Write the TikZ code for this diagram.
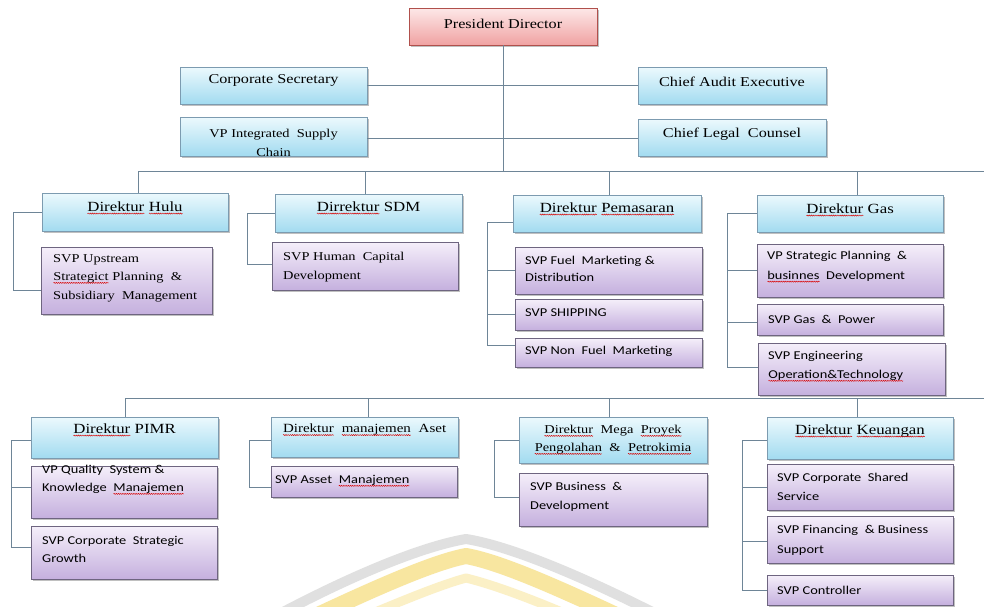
\documentclass[tikz,border=0pt]{standalone}
\usepackage{fontspec}
\setmainfont{Liberation Serif}[FakeStretch=1.2]
\newfontfamily\calfont{Carlito}[FakeStretch=1.2]
\usetikzlibrary{shadows,decorations.pathmorphing}

\definecolor{blueT}{HTML}{ECF9FD}
\definecolor{blueB}{HTML}{A2DBF0}
\definecolor{blueD}{HTML}{7C9BB0}
\definecolor{purT}{HTML}{F5EFFA}
\definecolor{purB}{HTML}{C5B0DE}
\definecolor{purD}{HTML}{6E6580}
\definecolor{redT}{HTML}{FDE8E8}
\definecolor{redB}{HTML}{F0A2A2}
\definecolor{redD}{HTML}{B0504C}
\definecolor{lineC}{HTML}{6E8597}
\definecolor{wmGray}{HTML}{E0E0E0}
\definecolor{wmYel}{HTML}{F8E6A0}

\newcommand\sq[1]{\tikz[baseline=(sqw.base)]{\node[inner sep=0pt,outer sep=0pt,anchor=base,draw=none,fill=none] (sqw) at (0,0) {#1};\draw[red!85!black,line width=0.45pt,decorate,decoration={snake,amplitude=0.55pt,segment length=2.2pt}] ([yshift=-2.2pt]sqw.base west) -- ([yshift=-2.2pt]sqw.base east);}}

\newcommand\bx[6]{\node[#1, minimum width={(#5-#3)*1pt}, minimum height={(#6-#4)*1pt}] (#2) at ({(#3+#5)/2},{(#4+#6)/2}) {};}

\tikzset{
  box/.style={draw, line width=0.8pt, inner sep=0pt,
    drop shadow={shadow xshift=1.6pt, shadow yshift=-1.8pt, opacity=0.35, fill=black!70}},
  bluebox/.style={box, draw=blueD, top color=blueT, bottom color=blueB},
  purbox/.style={box, draw=purD, top color=purT, bottom color=purB},
  presbox/.style={box, draw=redD, top color=redT, bottom color=redB},
  conn/.style={draw=lineC, line width=0.9pt},
  ttxt/.style={inner sep=0pt, align=center, font=\fontsize{13.5}{16}\selectfont},
  dtxt/.style={inner sep=0pt, align=center, font=\fontsize{14}{17}\selectfont},
  stxt/.style={inner sep=0pt, align=left, anchor=west, font=\fontsize{12}{18.5}\selectfont},
  ctxt/.style={inner sep=0pt, align=left, anchor=west, font={\calfont\fontsize{12}{18.5}\selectfont}}
}

\begin{document}
\begin{tikzpicture}[x=1pt,y=-1pt]
\useasboundingbox (0,0) rectangle (984,606);
\fill[white] (0,0) rectangle (984,606);

% faint watermark
\begin{scope}
  \clip (0,0) rectangle (984,606);
  \draw[wmYel!60!white, line width=9pt, line join=round] (310,640) .. controls (395,603) and (440,585) .. (466,578) .. controls (495,585) and (545,603) .. (625,640);
  \draw[wmYel, line width=16pt, line join=round] (282,632) .. controls (380,585) and (435,562) .. (466,556) .. controls (500,562) and (560,588) .. (652,632);
  \draw[wmGray, line width=10pt, line join=round] (268,620) .. controls (365,568) and (430,545) .. (466,539) .. controls (505,545) and (575,572) .. (668,620);
\end{scope}

% top boxes
\bx{presbox}{pres}{409}{8}{597}{45}
\bx{bluebox}{corpsec}{180}{67}{367}{104}
\bx{bluebox}{vpisc}{180}{117}{367}{156}
\bx{bluebox}{audit}{638}{67}{826}{104}
\bx{bluebox}{legal}{638}{119}{826}{156}

% row 1 directors
\bx{bluebox}{hulu}{42}{193}{228}{231}
\bx{bluebox}{sdm}{275}{194}{462}{232}
\bx{bluebox}{pemas}{513}{195}{701}{232}
\bx{bluebox}{gas}{757}{195}{943}{232}

% row 1 units
\bx{purbox}{upstream}{41}{247}{212}{314}
\bx{purbox}{hcd}{272}{242}{458}{290}
\bx{purbox}{fuel}{515}{247}{702}{294}
\bx{purbox}{ship}{515}{299}{702}{330}
\bx{purbox}{nonfuel}{515}{338}{702}{367}
\bx{purbox}{vpsp}{757}{244}{943}{297}
\bx{purbox}{gaspow}{757}{304}{943}{335}
\bx{purbox}{eng}{758}{343}{945}{395}

% row 2 directors
\bx{bluebox}{pimr}{31}{417}{218}{458}
\bx{bluebox}{aset}{271}{417}{458}{457}
\bx{bluebox}{mega}{519}{417}{707}{463}
\bx{bluebox}{keu}{767}{417}{953}{459}

% row 2 units
\bx{purbox}{vpq}{31}{466}{217}{518}
\bx{purbox}{csg}{31}{526}{217}{579}
\bx{purbox}{assetm}{271}{466}{457}{497}
\bx{purbox}{busdev}{519}{473}{707}{526}
\bx{purbox}{css}{767}{464}{953}{510}
\bx{purbox}{fin}{767}{516}{953}{563}
\bx{purbox}{ctrl}{767}{575}{953}{605}

% texts: top
\node[ttxt] at ([yshift=3pt]pres.center) {President Director};
\node[ttxt] at ([yshift=5pt]corpsec.center) {Corporate Secretary};
\node[ttxt] at ([yshift=4pt]audit.center) {Chief Audit Executive};
\node[ttxt] at ([yshift=3pt]legal.center) {Chief Legal\ \ Counsel};
\begin{scope}
  \clip (vpisc.north west) rectangle (vpisc.south east);
  \node[ttxt, font=\fontsize{12}{19}\selectfont] at ([yshift=-6.5pt]vpisc.center) {VP Integrated\ \ Supply\\Chain};
\end{scope}

% texts: directors
\node[dtxt] at ([yshift=4pt]hulu.center) {\sq{Direktur} \sq{Hulu}};
\node[dtxt] at ([yshift=5pt]sdm.center) {\sq{Dirrektur} SDM};
\node[dtxt] at ([yshift=4.5pt]pemas.center) {\sq{Direktur} \sq{Pemasaran}};
\node[dtxt] at ([yshift=3.5pt]gas.center) {\sq{Direktur} Gas};
\node[dtxt] at ([yshift=7.5pt]pimr.center) {\sq{Direktur} PIMR};
\node[dtxt, font=\fontsize{12.5}{16}\selectfont] at ([yshift=7pt]aset.center) {\sq{Direktur}\ \ \sq{manajemen}\ \ Aset};
\node[dtxt, font=\fontsize{12}{18}\selectfont] at (mega.center) {\sq{Direktur}\ \ Mega\ \ \sq{Proyek}\\\sq{Pengolahan}\ \ \&\ \ \sq{Petrokimia}};
\node[dtxt] at ([yshift=7pt]keu.center) {\sq{Direktur} \sq{Keuangan}};

% texts: units
\node[stxt] at (53,278) {SVP Upstream\\\sq{Strategict} Planning\ \ \&\\Subsidiary\ \ Management};
\node[stxt] at (283,267) {SVP Human\ \ Capital\\Development};
\node[ctxt, font={\calfont\fontsize{12}{17}\selectfont}] at (525,268.5) {SVP Fuel\ \ Marketing \&\\Distribution};
\node[ctxt] at (525,313) {SVP SHIPPING};
\node[ctxt] at (525,351) {SVP Non\ \ Fuel\ \ Marketing};
\node[ctxt, font={\calfont\fontsize{12}{19.5}\selectfont}] at (767,267) {VP Strategic Planning\ \ \&\\\sq{businnes}\ \ Development};
\node[ctxt] at (768,319) {SVP Gas \ \& \ Power};
\node[ctxt, font={\calfont\fontsize{12}{19}\selectfont}] at (768,366.5) {SVP Engineering\\\sq{Operation\&Technology}};
\node[ctxt, font={\calfont\fontsize{12}{18}\selectfont}] at (42,480) {VP Quality\ \ System \&\\Knowledge\ \ \sq{Manajemen}};
\node[ctxt, font={\calfont\fontsize{12}{18}\selectfont}] at (42,549) {SVP Corporate\ \ Strategic\\Growth};
\node[ctxt] at (275,481) {SVP Asset\ \ \sq{Manajemen}};
\node[ctxt, font={\calfont\fontsize{12}{19.5}\selectfont}] at (530,497) {SVP Business\ \ \&\\Development};
\node[ctxt, font={\calfont\fontsize{12}{19.5}\selectfont}] at (777,487) {SVP Corporate\ \ Shared\\Service};
\node[ctxt, font={\calfont\fontsize{12}{19.5}\selectfont}] at (777,540.5) {SVP Financing\ \ \& Business\\Support};
\node[ctxt] at (777,590) {SVP Controller};

% connectors: top
\draw[conn] (corpsec.east) -- (audit.west);
\draw[conn] ([yshift=-1.5pt]vpisc.east) -- ([yshift=-0.5pt]legal.west);
\coordinate (b1l) at (138,171);
\coordinate (b1r) at (984,171);
\coordinate (v1b) at (365,171);
\coordinate (v1c) at (609,171);
\coordinate (v1d) at (857,171);
\draw[conn] (pres.south) -- (pres.south |- b1l);
\draw[conn] (b1l) -- (b1r);
\draw[conn] (b1l) -- (b1l |- hulu.north);
\draw[conn] (v1b) -- (v1b |- sdm.north);
\draw[conn] (v1c) -- (v1c |- pemas.north);
\draw[conn] (v1d) -- (v1d |- gas.north);

% brackets row 1
\coordinate (hb) at (13,0);
\coordinate (u1) at ([yshift=-9.5pt]upstream.west);
\draw[conn] (hulu.west) -| (hb |- u1) -- (u1);

\coordinate (sb) at (247,0);
\coordinate (h1) at ([yshift=2pt]hcd.west);
\draw[conn] (sdm.west) -| (sb |- h1) -- (h1);

\coordinate (pb) at (487,0);
\coordinate (p0) at ([yshift=-8.5pt]pemas.west);
\coordinate (p3) at ([yshift=7pt]nonfuel.west);
\draw[conn] (p0) -| (pb |- p3) -- (p3);
\draw[conn] (fuel.west) -- (fuel.west -| pb);
\draw[conn] (ship.west) -- (ship.west -| pb);

\coordinate (gb) at (727,0);
\coordinate (g3) at ([yshift=2pt]eng.west);
\draw[conn] (gas.west) -| (gb |- g3) -- (g3);
\draw[conn] (vpsp.west) -- (vpsp.west -| gb);
\draw[conn] ([yshift=-2.5pt]gaspow.west) -- ([yshift=-2.5pt]gaspow.west -| gb);

% row 2 bus
\coordinate (b2l) at (125,398);
\coordinate (b2r) at (984,398);
\coordinate (v2b) at (368,398);
\coordinate (v2c) at (609,398);
\coordinate (v2d) at (857,398);
\draw[conn] (b2l) -- (b2r);
\draw[conn] (b2l) -- (b2l |- pimr.north);
\draw[conn] (v2b) -- (v2b |- aset.north);
\draw[conn] (v2c) -- (v2c |- mega.north);
\draw[conn] (v2d) -- (v2d |- keu.north);

% brackets row 2
\coordinate (qb) at (11,0);
\coordinate (q0) at ([yshift=-2.5pt]pimr.west);
\coordinate (q2) at ([yshift=5.5pt]csg.west);
\draw[conn] (q0) -| (qb |- q2) -- (q2);
\draw[conn] ([yshift=5pt]vpq.west) -- ([yshift=5pt]vpq.west -| qb);

\coordinate (ab) at (249,0);
\coordinate (a0) at ([yshift=-3pt]aset.west);
\coordinate (a1) at ([yshift=-5.5pt]assetm.west);
\draw[conn] (a0) -| (ab |- a1) -- (a1);

\coordinate (mb) at (494,0);
\coordinate (m1) at ([yshift=2.5pt]busdev.west);
\draw[conn] (mega.west) -| (mb |- m1) -- (m1);

\coordinate (kb) at (742,0);
\coordinate (k0) at ([yshift=-2pt]keu.west);
\draw[conn] (k0) -| (kb |- ctrl.west) -- (ctrl.west);
\draw[conn] (css.west) -- (css.west -| kb);
\draw[conn] ([yshift=-1.5pt]fin.west) -- ([yshift=-1.5pt]fin.west -| kb);
\end{tikzpicture}
\end{document}
